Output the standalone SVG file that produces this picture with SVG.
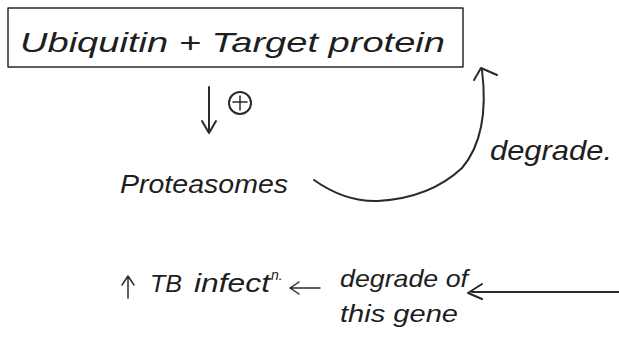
<svg xmlns="http://www.w3.org/2000/svg" width="619" height="351" viewBox="0 0 619 351">
<defs>
<style>
.t{font-family:"Liberation Sans",Arial,sans-serif;fill:#1e1e1e;font-style:italic}
.ln{stroke:#2a2a2a;stroke-width:2;fill:none;stroke-linecap:round;stroke-linejoin:round}
.thin{stroke-width:1.5}
</style>
</defs>
<rect width="619" height="351" fill="#ffffff"/>
<g id="node-ubiquitin">
<rect x="8" y="8" width="455" height="59" class="ln thin"/>
<text class="t" x="20" y="52" font-size="28" textLength="425" lengthAdjust="spacingAndGlyphs">Ubiquitin + Target protein</text>
</g>
<g id="node-plus">
<circle cx="240" cy="103" r="11" class="ln"/>
<path d="M240 96 V110 M233 102 H247" class="ln thin"/>
</g>
<g id="node-proteasomes">
<text class="t" x="120" y="193" font-size="26" textLength="168" lengthAdjust="spacingAndGlyphs">Proteasomes</text>
</g>
<g id="node-degrade">
<text class="t" x="490" y="160" font-size="28" textLength="122" lengthAdjust="spacingAndGlyphs">degrade.</text>
</g>
<g id="node-tb">
<path d="M128 298 V277 M122 285 L128 276 L134 285" class="ln thin"/>
<text class="t" x="150" y="292" font-size="24" textLength="32" lengthAdjust="spacingAndGlyphs">TB</text>
<text class="t" x="194" y="292" font-size="26" textLength="76" lengthAdjust="spacingAndGlyphs">infect</text>
<text class="t" x="271" y="280" font-size="14">n.</text>
</g>
<g id="node-gene">
<text class="t" x="340" y="287" font-size="24" textLength="128" lengthAdjust="spacingAndGlyphs">degrade of</text>
<text class="t" x="340" y="322" font-size="24" textLength="118" lengthAdjust="spacingAndGlyphs">this gene</text>
</g>
<g id="connectors">
<path d="M209 87 V132 M202 121 L209 133 L216 121" class="ln"/>
<path d="M314 180 Q345 202 378 201 Q430 198 462 168 Q490 135 482 70" class="ln"/>
<path d="M474 80 L481 68 L497 75" class="ln"/>
<path d="M619 292 H472 M482 284 L468 293 L482 299" class="ln"/>
<path d="M320 288 H291 M299 282 L290 288 L299 294" class="ln thin"/>
</g>
</svg>
